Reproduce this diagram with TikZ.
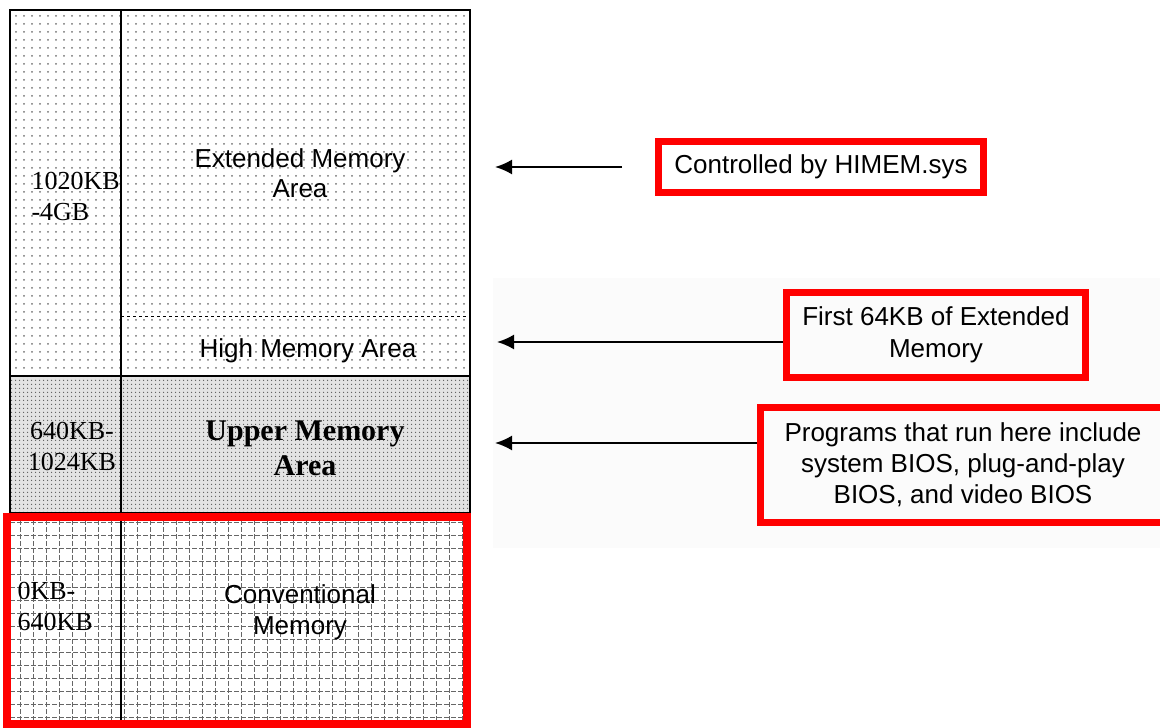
\documentclass[tikz,border=0pt]{standalone}
\usepackage{fontspec}
\setmainfont{Liberation Serif}
\setsansfont{Liberation Sans}
\usetikzlibrary{arrows.meta,patterns.meta}

\begin{document}
\begin{tikzpicture}[x=1pt,y=-1pt]
 \tikzstyle{redbox}=[draw=red, line width=7pt, align=center, inner sep=0pt, font=\sffamily\fontsize{26}{32}\selectfont]
 \tikzstyle{memlbl}=[align=center, font=\sffamily\fontsize{26}{30}\selectfont]
 \tikzstyle{addr}=[font=\rmfamily\fontsize{26}{31}\selectfont]
 \tikzstyle{pointer}=[-{Latex[length=17pt, width=15pt]}, line width=2pt]
 \tikzstyle{gridln}=[black!60, line width=1pt, dash pattern=on 5pt off 2pt]
 \clip (0,0) rectangle (1160,728);
 %
 \fill[black!1.5] (493,278) rectangle (1160,548);
 %
 \fill[pattern={Dots[distance=8pt, radius=1pt]}, pattern color=black!55] (10,10) rectangle (470,376);
 \fill[gray!22] (10,376) rectangle (470,513);
 \fill[pattern={Dots[distance=4pt, radius=0.8pt]}, pattern color=black!65] (10,376) rectangle (470,513);
 \foreach \gx in {20,33,...,470} \draw[gridln] (\gx,513) -- (\gx,728);
 \foreach \gy in {522,535,...,728} \draw[gridln] (10,\gy) -- (470,\gy);
 %
 \draw[line width=2pt] (10,513) -- (10,10) -- (470,10) -- (470,513);
 \draw[line width=2pt] (121,10) -- (121,728);
 \draw[line width=1.6pt] (10,376) -- (470,376);
 \draw[line width=1.6pt] (10,513) -- (470,513);
 \draw[dashed, line width=1pt] (121,316) -- (470,316);
 %
 \node[addr, align=left, anchor=west] (xmsrange) at (28,196) {1020KB\\-4GB};
 \node[memlbl] (xms) at (300,173) {Extended Memory\\Area};
 \node[memlbl] (hma) at (308,351) {High Memory Area};
 \node[addr, align=center] (umarange) at (72,446) {640KB-\\1024KB};
 \node[align=center, font=\rmfamily\bfseries\fontsize{30}{35}\selectfont] (uma) at (305,448) {Upper Memory\\Area};
 \node[addr, align=left, anchor=west] (convrange) at (14,606) {0KB-\\640KB};
 \node[memlbl, font=\sffamily\fontsize{26}{31}\selectfont] (conv) at (300,612) {Conventional\\Memory};
 %
 \draw[red, line width=8pt] (7,517) rectangle (467,724);
 %
 \node[redbox, minimum width=325pt, minimum height=51pt] (himem) at (821,167) {Controlled by HIMEM.sys};
 \node[redbox, minimum width=299pt, minimum height=85pt] (hmanote) at (936,335) {First 64KB of Extended\\Memory};
 \node[redbox, minimum width=405pt, minimum height=115pt, font=\sffamily\fontsize{26}{31}\selectfont] (umanote) at (963,465) {Programs that run here include\\system BIOS, plug-and-play\\BIOS, and video BIOS};
 %
 \coordinate (xmstip) at (495,167);
 \coordinate (hmatip) at (497,342);
 \coordinate (umatip) at (495,443);
 %%
 \draw[pointer, shorten <=33pt] (himem.west) -- (xmstip);
 \draw[pointer] (hmatip -| hmanote.west) -- (hmatip);
 \draw[pointer] (umatip -| umanote.west) -- (umatip);
\end{tikzpicture}
\end{document}
